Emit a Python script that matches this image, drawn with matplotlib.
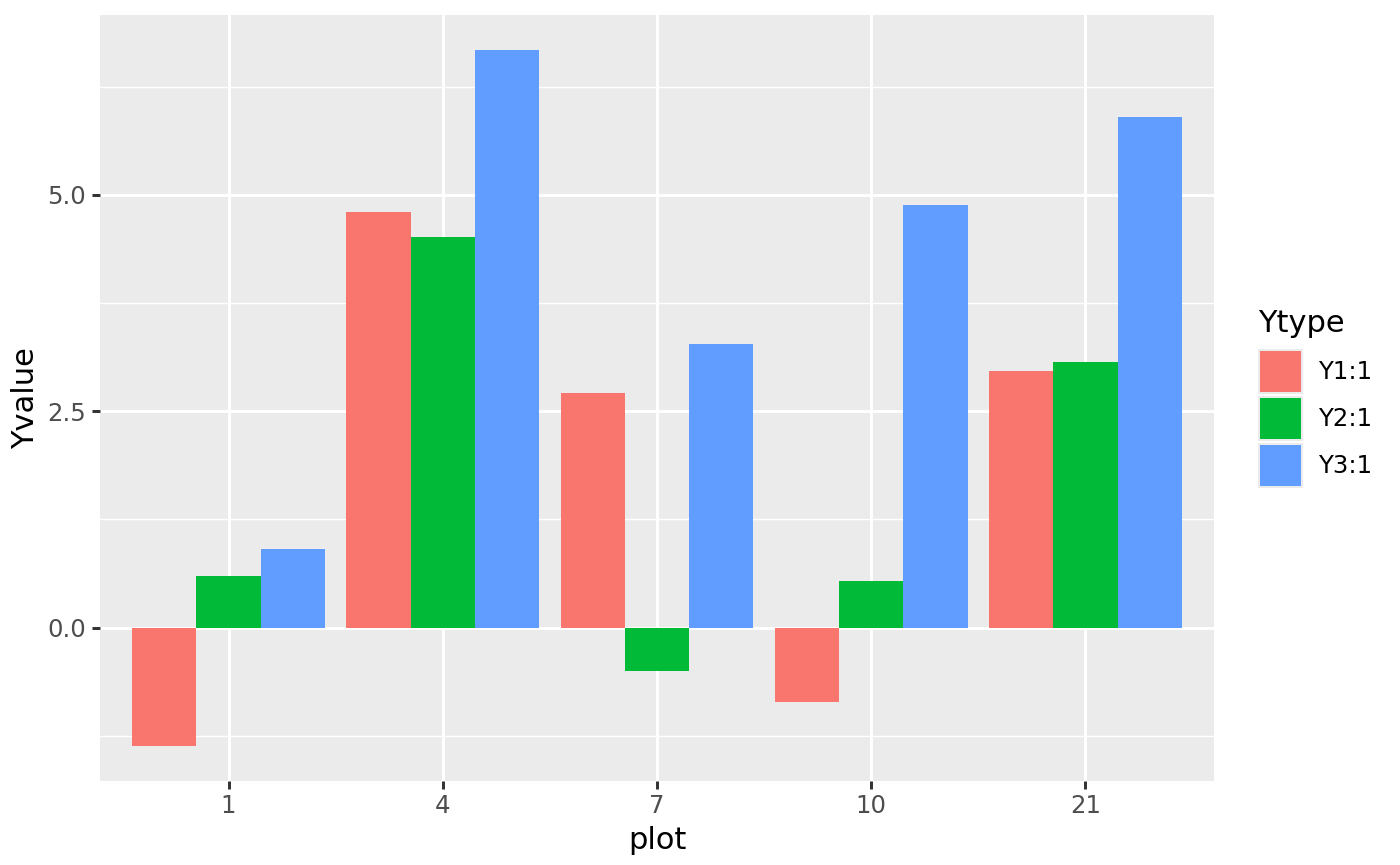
import matplotlib
matplotlib.use("Agg")
import matplotlib.pyplot as plt
from matplotlib.patches import Rectangle
import numpy as np

plots = ["1", "4", "7", "10", "21"]
ytypes = ["Y1:1", "Y2:1", "Y3:1"]
y1 = [-1.366, 4.807, 2.706, -0.861, 2.960]
y2 = [0.593, 4.518, -0.500, 0.536, 3.064]
y3 = [0.905, 6.677, 3.283, 4.887, 5.904]
series = [y1, y2, y3]
colors = ["#F8766D", "#00BA38", "#619CFF"]

W, H, DPI = 1400, 865, 200
fig = plt.figure(figsize=(W / DPI, H / DPI), dpi=DPI)
fig.patch.set_facecolor("white")

left, right, top, bottom = 100, 1214, 15, 780.7
ax = fig.add_axes([left / W, 1 - bottom / H, (right - left) / W, (bottom - top) / H])
ax.set_facecolor("#EBEBEB")
for s in ax.spines.values():
    s.set_visible(False)

x = np.arange(1, len(plots) + 1)
bw = 0.3
for i, (vals, c) in enumerate(zip(series, colors)):
    ax.bar(x + (i - 1) * bw, vals, width=bw, color=c, linewidth=0, zorder=3, label=ytypes[i])

ymin = min(min(s) for s in series)
ymax = max(max(s) for s in series)
pad = 0.05 * (ymax - ymin)
ax.set_ylim(ymin - pad, ymax + pad)
ax.set_xlim(0.4, len(plots) + 0.6)

ax.set_xticks(x)
ax.set_xticklabels(plots)
ax.set_yticks([0.0, 2.5, 5.0])
ax.set_yticklabels(["0.0", "2.5", "5.0"])
ax.set_yticks([-1.25, 1.25, 3.75, 6.25], minor=True)

ax.grid(True, which="major", color="white", linewidth=1.07, zorder=0)
ax.grid(True, which="minor", axis="y", color="white", linewidth=0.53, zorder=0)
ax.set_axisbelow(True)
ax.tick_params(axis="both", which="major", length=2.75, width=1.07, color="#333333",
               labelsize=8.8, labelcolor="#4D4D4D", pad=2.2)
ax.tick_params(axis="both", which="minor", length=0)

ax.set_xlabel("plot", fontsize=11, labelpad=2.75)
ax.set_ylabel("Yvalue", fontsize=11, labelpad=2.75)

# legend
fig.text(1258 / W, 1 - 323 / H, "Ytype", fontsize=11, ha="left", va="center")
key_tops = [349, 396, 443]
for kt, c, lab in zip(key_tops, colors, ytypes):
    fig.add_artist(Rectangle((1258 / W, 1 - (kt + 45) / H), 45 / W, 45 / H,
                             transform=fig.transFigure, facecolor="#EBEBEB", edgecolor="none"))
    fig.add_artist(Rectangle((1260 / W, 1 - (kt + 43) / H), 41 / W, 41 / H,
                             transform=fig.transFigure, facecolor=c, edgecolor="none"))
    fig.text(1318 / W, 1 - (kt + 23) / H, lab, fontsize=8.8, ha="left", va="center")

fig.savefig("out.png", dpi=DPI)
